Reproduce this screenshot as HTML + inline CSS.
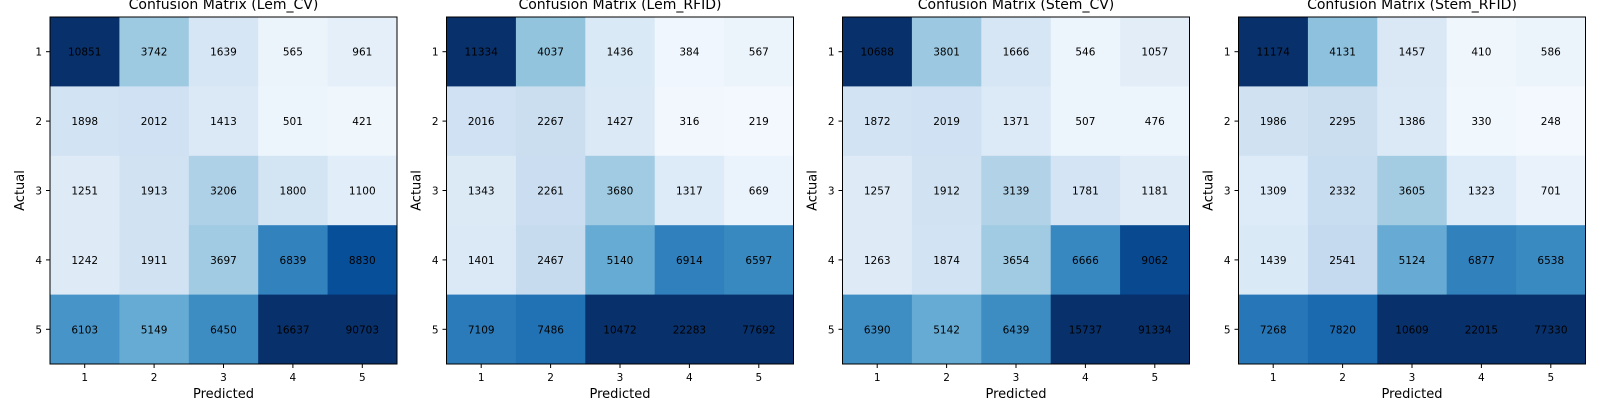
<!DOCTYPE html>
<html><head><meta charset="utf-8"><style>
body{margin:0;background:#fff;width:1600px;height:400px;overflow:hidden}
svg text{font-family:"DejaVu Sans","Liberation Sans",sans-serif;fill:#000}
</style></head><body>
<svg id="chart" width="1600" height="400" xmlns="http://www.w3.org/2000/svg"></svg>
<script>
const titles = ["Confusion Matrix (Lem_CV)","Confusion Matrix (Lem_RFID)","Confusion Matrix (Stem_CV)","Confusion Matrix (Stem_RFID)"];
const classLabels = ["1","2","3","4","5"];
const matLemCV = [[10851,3742,1639,565,961],[1898,2012,1413,501,421],[1251,1913,3206,1800,1100],[1242,1911,3697,6839,8830],[6103,5149,6450,16637,90703]];
const matLemRFID = [[11334,4037,1436,384,567],[2016,2267,1427,316,219],[1343,2261,3680,1317,669],[1401,2467,5140,6914,6597],[7109,7486,10472,22283,77692]];
const matStemCV = [[10688,3801,1666,546,1057],[1872,2019,1371,507,476],[1257,1912,3139,1781,1181],[1263,1874,3654,6666,9062],[6390,5142,6439,15737,91334]];
const matStemRFID = [[11174,4131,1457,410,586],[1986,2295,1386,330,248],[1309,2332,3605,1323,701],[1439,2541,5124,6877,6538],[7268,7820,10609,22015,77330]];
const matrices = [matLemCV,matLemRFID,matStemCV,matStemRFID];
const VMAX = 10000;

const blues = ["#f7fbff","#deebf7","#c6dbef","#9ecae1","#6baed6","#4292c6","#2171b5","#08519c","#08306b"];
function hex(c){return [1,3,5].map(i=>parseInt(c.substr(i,2),16));}
function color(v){
  let t=Math.max(0,Math.min(1,v/VMAX))*8;
  let i=Math.min(7,Math.floor(t)),f=t-i;
  let a=hex(blues[i]),b=hex(blues[i+1]);
  return "rgb("+a.map((x,k)=>Math.round(x+(b[k]-x)*f)).join(",")+")";
}
const svg=document.getElementById('chart');
const NS="http://www.w3.org/2000/svg";
function mk(tag,attrs,parent){const e=document.createElementNS(NS,tag);for(const k in attrs)e.setAttribute(k,attrs[k]);(parent||svg).appendChild(e);return e;}
const lefts=[50,446.5,842.5,1238.5], W=347, TOP=17, H=347;
matrices.forEach((m,p)=>{
  const g=mk('g',{});
  
  
  const x0=lefts[p], n=classLabels.length, cw=W/n, ch=H/n;
  const xs=j=>x0+j*cw, ys=i=>TOP+i*ch;
  m.forEach((row,i)=>row.forEach((v,j)=>{
    const r=mk('rect',{x:xs(j),y:ys(i),width:cw+0.5,height:ch+0.5,fill:color(v)},g);
    
    
    const t=mk('text',{x:xs(j)+cw/2,y:ys(i)+ch/2+4,'text-anchor':'middle','font-size':'10.5'},g);
    t.textContent=v;
    
    
  }));
  const fr=mk('rect',{x:x0,y:TOP,width:W,height:H,fill:'none',stroke:'#000','stroke-width':1},g);
  
  
  classLabels.forEach((lab,k)=>{
    mk('line',{x1:xs(k)+cw/2,x2:xs(k)+cw/2,y1:TOP+H,y2:TOP+H+4,stroke:'#000'},g);
    const tx=mk('text',{x:xs(k)+cw/2,y:TOP+H+17,'text-anchor':'middle','font-size':'10.5'},g);
    tx.textContent=lab;
    
    
    mk('line',{x1:x0-4,x2:x0,y1:ys(k)+ch/2,y2:ys(k)+ch/2,stroke:'#000'},g);
    const ty=mk('text',{x:x0-8,y:ys(k)+ch/2+4,'text-anchor':'end','font-size':'10.5'},g);
    ty.textContent=lab;
    
    
  });
  const ti=mk('text',{x:x0+W/2,y:9,'text-anchor':'middle','font-size':'14'},g);
  ti.textContent=titles[p];
  
  
  const xl=mk('text',{x:x0+W/2,y:398,'text-anchor':'middle','font-size':'13'},g);
  xl.textContent='Predicted';
  
  
  const yl=mk('text',{x:0,y:0,'text-anchor':'middle','font-size':'13',transform:'translate('+(x0-26)+','+(TOP+H/2)+') rotate(-90)'},g);
  yl.textContent='Actual';
  
  
});
</script>
</body></html>
